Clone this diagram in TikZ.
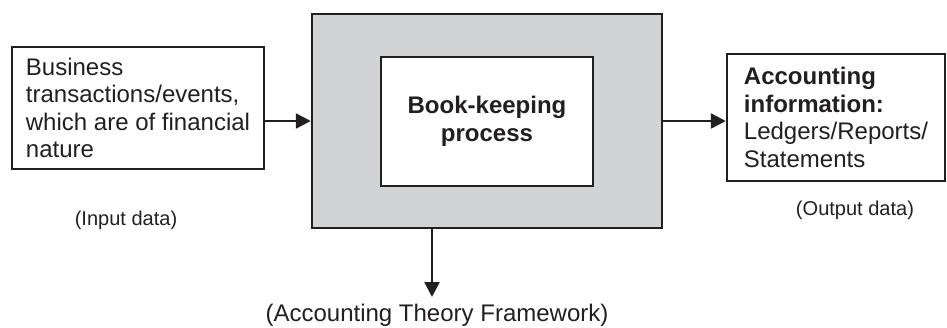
\documentclass[tikz,border=0pt]{standalone}
\usepackage{fontspec}
\setmainfont{Liberation Sans}
\usetikzlibrary{arrows.meta}
\definecolor{ink}{RGB}{35,31,32}
\definecolor{procgray}{RGB}{209,211,212}
\tikzset{>={Triangle[length=3mm, width=3mm]}}
\tikzset{
	frame/.style={draw=ink, line width=1.4pt, inner sep=0pt},
	txt/.style={font=\fontsize{13.66}{15.65}\selectfont, text=ink},
	boldtxt/.style={font=\fontsize{13.66}{15.65}\selectfont\bfseries, text=ink},
	small/.style={font=\fontsize{11.4}{13.6}\selectfont, text=ink},
	flow/.style={->, draw=ink, line width=1.4pt}
}

\begin{document}
\begin{tikzpicture}
    \useasboundingbox (0, 0) rectangle (18.94, 6.54);
    \node[frame, txt, align=left, minimum width=5.04cm, minimum height=2.44cm](input) at (2.76, 4.38){Business\\transactions/events,\\which are of financial\\nature};
    \node[frame, fill=procgray, minimum width=7cm, minimum height=4.28cm](process) at (9.74, 4.12){};
    \node[frame, fill=white, boldtxt, align=center, minimum width=4.24cm, minimum height=2.58cm](bookkeeping) at (9.74, 4.11){Book-keeping\\process};
    \node[frame, txt, align=left, minimum width=4.36cm, minimum height=2.54cm](output) at (16.72, 4.19){\textbf{Accounting}\\\textbf{information:}\\Ledgers/Reports/\\Statements};
    \node[small, anchor=base](indata) at (2.52, 2.03){(Input data)};
    \node[small, anchor=base](outdata) at (17.1, 2.24){(Output data)};
    \node[txt, anchor=base](framework) at (8.74, 0.11){(Accounting Theory Framework)};
    \coordinate (fwtip) at (8.64, 0.6);
    \draw[flow](input.east |- process.west)--(process.west);
    \draw[flow](process.east)--(output.west |- process.east);
    \draw[flow](process.south -| fwtip)--(fwtip);
\end{tikzpicture}
\end{document}
